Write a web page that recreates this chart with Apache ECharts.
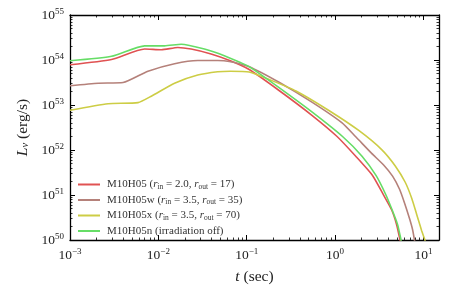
<!DOCTYPE html>
<html><head><meta charset="utf-8">
<script src="https://cdn.jsdelivr.net/npm/echarts@6/dist/echarts.min.js"></script>
<style>html,body{margin:0;padding:0;background:#fff}#c{width:463px;height:290px}</style>
</head><body><div id="c"></div>
<script>
// t (sec) and L_nu (erg/s)
const seriesNames = ['M10H05', 'M10H05w', 'M10H05x', 'M10H05n'];
const red_t = [0.001, 0.00295, 0.0070, 0.0108, 0.01661, 0.02351, 0.03951, 0.06518, 0.1067, 0.2324, 0.547, 1.046, 1.713, 2.664, 3.543, 4.359, 4.964, 5.436, 5.5];
const red_L = [7.87e53, 1.03e54, 1.75e54, 1.69e54, 1.90e54, 1.75e54, 1.36e54, 9.62e53, 6.14e53, 2.10e53, 5.90e52, 2.02e52, 7.26e51, 2.69e51, 9.91e50, 4.69e50, 2.22e50, 1.0e50, 8.5e49];
const brown_t = [0.001, 0.002084, 0.003987, 0.007625, 0.01525, 0.0279, 0.04688, 0.0635, 0.1067, 0.2324, 0.547, 1.191, 1.713, 2.595, 3.543, 4.474, 5.366, 6.108, 6.955, 7.517, 7.915, 8.0];
const brown_L = [2.67e53, 3.05e53, 3.16e53, 5.64e53, 8.28e53, 9.75e53, 9.75e53, 9.29e53, 7.12e53, 3.21e53, 1.16e53, 4.06e52, 1.97e52, 8.43e51, 4.64e51, 2.62e51, 1.34e51, 6.65e50, 2.99e50, 1.73e50, 1.0e50, 8.5e49];
const yellow_t = [0.001, 0.002701, 0.005885, 0.008328, 0.01525, 0.0279, 0.04688, 0.06518, 0.1067, 0.1938, 0.3612, 0.8502, 1.852, 3.389, 4.799, 6.220, 7.382, 8.404, 9.568, 10.39, 10.5];
const yellow_L = [7.67e52, 1.07e53, 1.13e53, 1.57e53, 3.05e53, 4.62e53, 5.47e53, 5.64e53, 5.42e53, 3.46e53, 2.05e53, 7.56e52, 2.72e52, 1.01e52, 4.42e51, 1.92e51, 8.39e50, 3.66e50, 1.59e50, 1.0e50, 8.5e49];
const green_t = [0.001, 0.00295, 0.0070, 0.01176, 0.01814, 0.0332, 0.05579, 0.08603, 0.1067, 0.2324, 0.547, 1.223, 2.018, 2.916, 3.731, 4.417, 5.093, 5.579, 5.65];
const green_L = [9.62e53, 1.21e54, 2.06e54, 2.06e54, 2.24e54, 1.75e54, 1.25e54, 8.69e53, 7.12e53, 2.43e53, 7.02e52, 1.97e52, 7.26e51, 2.69e51, 1.04e51, 4.69e50, 2.22e50, 1.0e50, 8.5e49];
const legendLabels = {
  'M10H05': 'M10H05 ({i|r}{sb|in} = 2.0, {i|r}{sb|out} = 17)',
  'M10H05w': 'M10H05w ({i|r}{sb|in} = 3.5, {i|r}{sb|out} = 35)',
  'M10H05x': 'M10H05x ({i|r}{sb|in} = 3.5, {i|r}{sb|out} = 70)',
  'M10H05n': 'M10H05n (irradiation off)'
};
const colors = ['#e05252', '#b5817a', '#cdcd45', '#66dd66'];

const FONT = '"Liberation Serif", "DejaVu Serif", serif';
function zip(a, b) { return a.map((v, i) => [v, b[i]]); }
function expLabel(v) {
  const e = Math.log10(v);
  const r = Math.round(e);
  if (Math.abs(e - r) > 0.01) return '';
  return '{b|10}{s|' + String(r).replace('-', '\u2212') + '}';
}
const labelRich = {
  b: { fontFamily: FONT, fontSize: 13.5, color: '#222', lineHeight: 16 },
  s: { fontFamily: FONT, fontSize: 9, color: '#222', verticalAlign: 'top', lineHeight: 10 }
};
function logAxisX(pos, show) {
  return {
    type: 'log', logBase: 10, min: 0.001, max: 15, position: pos,
    axisLine: { show: true, onZero: false, lineStyle: { color: '#000', width: 1.3 } },
    axisTick: { show: true, inside: true, length: 5, lineStyle: { color: '#000', width: 1 } },
    minorTick: { show: true, splitNumber: 9, length: 2.5, lineStyle: { color: '#000', width: 0.8 } },
    splitLine: { show: false }, minorSplitLine: { show: false },
    axisLabel: { show: show, margin: 7, formatter: expLabel, rich: labelRich },
    name: show ? '{i|t} (sec)' : '', nameLocation: 'middle', nameGap: 29,
    nameTextStyle: { fontFamily: FONT, fontSize: 15.5, color: '#222', rich: { i: { fontFamily: FONT, fontStyle: 'italic', fontSize: 15.5, color: '#222' } } }
  };
}
function logAxisY(pos, show) {
  return {
    type: 'log', logBase: 10, min: 1e50, max: 1e55, position: pos,
    axisLine: { show: true, onZero: false, lineStyle: { color: '#000', width: 1.3 } },
    axisTick: { show: true, inside: true, length: 5, lineStyle: { color: '#000', width: 1 } },
    minorTick: { show: true, splitNumber: 9, length: 2.5, lineStyle: { color: '#000', width: 0.8 } },
    splitLine: { show: false }, minorSplitLine: { show: false },
    axisLabel: { show: show, margin: 6, formatter: expLabel, rich: labelRich },
    name: show ? '{i|L}{sb|\u03bd} (erg/s)' : '', nameLocation: 'middle', nameGap: 38, nameRotate: 90,
    nameTextStyle: { fontFamily: FONT, fontSize: 15.5, color: '#222', rich: {
      i: { fontFamily: FONT, fontStyle: 'italic', fontSize: 15.5, color: '#222' },
      sb: { fontFamily: FONT, fontStyle: 'italic', fontSize: 10.5, color: '#222', verticalAlign: 'bottom', padding: [5, 0, 0, 0] } } }
  };
}
const chart = echarts.init(document.getElementById('c'), null, { renderer: 'canvas' });
const datasets = [zip(red_t, red_L), zip(brown_t, brown_L), zip(yellow_t, yellow_L), zip(green_t, green_L)];
chart.setOption({
  animation: false,
  backgroundColor: '#fff',
  grid: { left: 70, top: 15, right: 24, bottom: 44, containLabel: false },
  xAxis: [logAxisX('bottom', true), logAxisX('top', false)],
  yAxis: [logAxisY('left', true), logAxisY('right', false)],
  legend: {
    orient: 'vertical', left: 78, top: 178, itemWidth: 22, itemHeight: 2, itemGap: 2.5,
    icon: 'rect', padding: 0,
    data: seriesNames,
    formatter: n => legendLabels[n],
    textStyle: { fontFamily: FONT, fontSize: 11, color: '#333', lineHeight: 13, padding: [0, 0, 0, 2], rich: {
      i: { fontFamily: FONT, fontStyle: 'italic', fontSize: 11, color: '#333' },
      sb: { fontFamily: FONT, fontSize: 7.5, color: '#333', verticalAlign: 'bottom', padding: [3, 0, 0, 0] } } }
  },
  series: seriesNames.map((n, i) => ({
    name: n, type: 'line', data: datasets[i], xAxisIndex: 0, yAxisIndex: 0,
    showSymbol: false, smooth: 0.2, clip: true,
    lineStyle: { color: colors[i], width: 1.6 }, itemStyle: { color: colors[i] }
  }))
});
</script></body></html>
